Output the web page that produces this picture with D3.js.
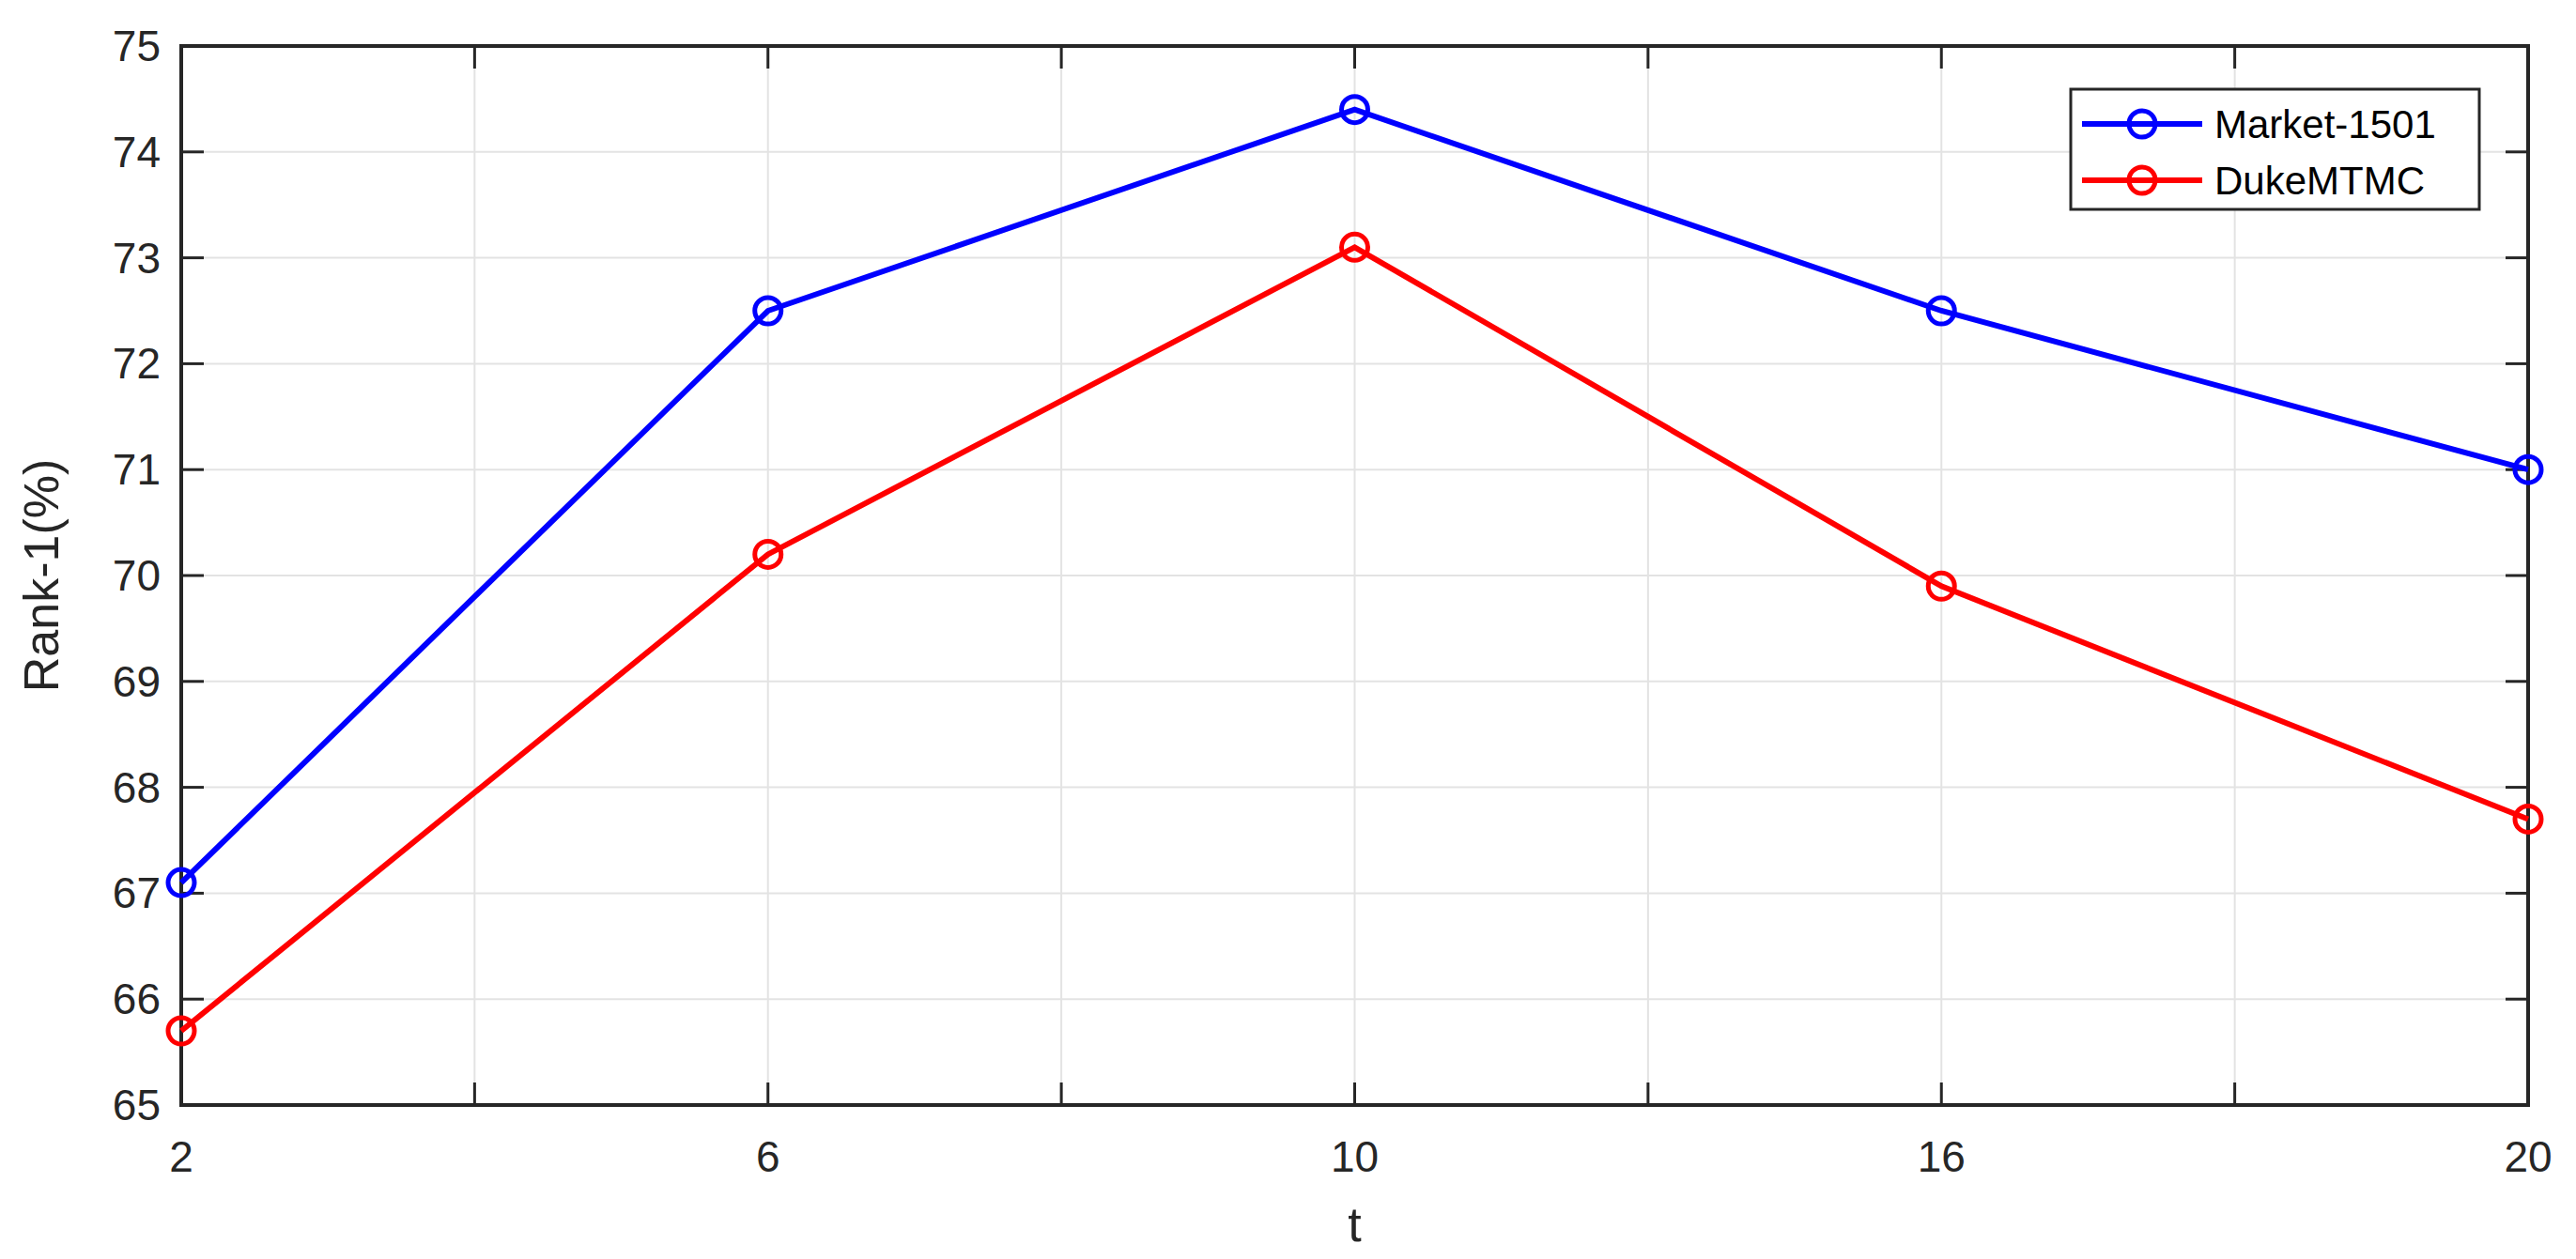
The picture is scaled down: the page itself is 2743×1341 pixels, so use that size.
<!DOCTYPE html>
<html>
<head>
<meta charset="utf-8">
<script src="https://cdn.jsdelivr.net/npm/d3@7"></script>
<style>
  body { margin: 0; background: #fff; }
  text { font-family: "Liberation Sans", Arial, sans-serif; }
</style>
</head>
<body>
<svg id="chart"></svg>
<script>
const tLabels = ["2", "6", "10", "16", "20"];
const market = [67.1, 72.5, 74.4, 72.5, 71.0];
const duke = [65.7, 70.2, 73.1, 69.9, 67.7];
const yTicks = [65, 66, 67, 68, 69, 70, 71, 72, 73, 74, 75];
const seriesNames = ["Market-1501", "DukeMTMC"];
const seriesColors = ["#0000ff", "#ff0000"];

const width = 2743, height = 1341;
const plotL = 193, plotR = 2692, plotT = 49, plotB = 1177;

const svg = d3.select("#chart").attr("width", width).attr("height", height);

const x = d3.scaleLinear().domain([0, tLabels.length - 1]).range([plotL, plotR]);
const y = d3.scaleLinear().domain([65, 75]).range([plotB, plotT]);

// grid
const xGrid = d3.range(0, tLabels.length - 0.9, 0.5);
svg.append("g").selectAll("line").data(xGrid).join("line")
    .attr("x1", d => x(d)).attr("x2", d => x(d))
    .attr("y1", plotT).attr("y2", plotB)
    .attr("stroke", "#e3e3e3").attr("stroke-width", 2);
svg.append("g").selectAll("line").data(yTicks).join("line")
    .attr("x1", plotL).attr("x2", plotR)
    .attr("y1", d => y(d)).attr("y2", d => y(d))
    .attr("stroke", "#e3e3e3").attr("stroke-width", 2);

// inward ticks
const tickLen = 24;
svg.append("g").selectAll("line").data(xGrid).join("line")
    .attr("x1", d => x(d)).attr("x2", d => x(d))
    .attr("y1", plotB).attr("y2", plotB - tickLen)
    .attr("stroke", "#262626").attr("stroke-width", 3);
svg.append("g").selectAll("line").data(xGrid).join("line")
    .attr("x1", d => x(d)).attr("x2", d => x(d))
    .attr("y1", plotT).attr("y2", plotT + tickLen)
    .attr("stroke", "#262626").attr("stroke-width", 3);
svg.append("g").selectAll("line").data(yTicks).join("line")
    .attr("x1", plotL).attr("x2", plotL + tickLen)
    .attr("y1", d => y(d)).attr("y2", d => y(d))
    .attr("stroke", "#262626").attr("stroke-width", 3);
svg.append("g").selectAll("line").data(yTicks).join("line")
    .attr("x1", plotR).attr("x2", plotR - tickLen)
    .attr("y1", d => y(d)).attr("y2", d => y(d))
    .attr("stroke", "#262626").attr("stroke-width", 3);

// box
svg.append("rect").attr("x", plotL).attr("y", plotT)
    .attr("width", plotR - plotL).attr("height", plotB - plotT)
    .attr("fill", "none").attr("stroke", "#262626").attr("stroke-width", 4);

// tick labels
svg.append("g").selectAll("text").data(tLabels).join("text")
    .attr("x", (d, i) => x(i)).attr("y", 1248)
    .attr("text-anchor", "middle").attr("font-size", 46).attr("fill", "#262626")
    .text(d => d);
svg.append("g").selectAll("text").data(yTicks).join("text")
    .attr("x", plotL - 22).attr("y", d => y(d) + 16)
    .attr("text-anchor", "end").attr("font-size", 46).attr("fill", "#262626")
    .text(d => d);

svg.append("text").attr("x", (plotL + plotR) / 2).attr("y", 1322)
    .attr("text-anchor", "middle").attr("font-size", 52).attr("fill", "#262626").text("t");
svg.append("text").attr("transform", `translate(62,${(plotT + plotB) / 2}) rotate(-90)`)
    .attr("text-anchor", "middle").attr("font-size", 52).attr("fill", "#262626").text("Rank-1(%)");

// series
const line = d3.line().x((d, i) => x(i)).y(d => y(d));
[market, duke].forEach((vals, k) => {
  const g = svg.append("g");
  g.append("path").datum(vals).attr("d", line)
      .attr("fill", "none").attr("stroke", seriesColors[k]).attr("stroke-width", 6);
  g.selectAll("circle").data(vals).join("circle")
      .attr("cx", (d, i) => x(i)).attr("cy", d => y(d)).attr("r", 14)
      .attr("fill", "none").attr("stroke", seriesColors[k]).attr("stroke-width", 5);
});

// legend
const lg = svg.append("g");
lg.append("rect").attr("x", 2205).attr("y", 95).attr("width", 435).attr("height", 128)
    .attr("fill", "#fff").attr("stroke", "#262626").attr("stroke-width", 3);
seriesNames.forEach((name, k) => {
  const cy = 132 + k * 60;
  lg.append("line").attr("x1", 2217).attr("x2", 2345).attr("y1", cy).attr("y2", cy)
      .attr("stroke", seriesColors[k]).attr("stroke-width", 6);
  lg.append("circle").attr("cx", 2281).attr("cy", cy).attr("r", 14)
      .attr("fill", "none").attr("stroke", seriesColors[k]).attr("stroke-width", 5);
  lg.append("text").attr("x", 2358).attr("y", cy + 15)
      .attr("font-size", 42).attr("fill", "#000").text(name);
});
</script>
</body>
</html>
